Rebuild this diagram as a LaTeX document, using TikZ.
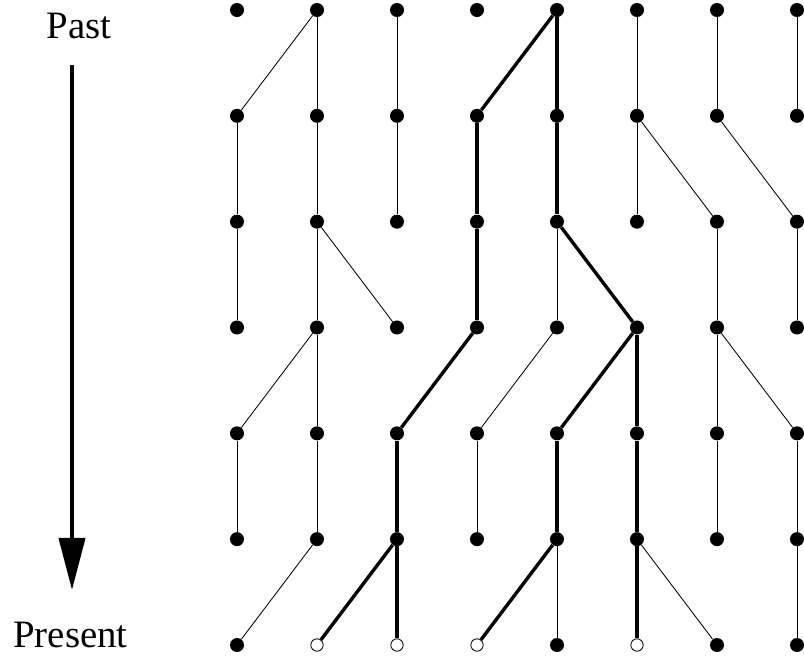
\documentclass[tikz,border=0pt]{standalone}
\usepackage{fontspec}
\setmainfont{Liberation Serif}
\usetikzlibrary{arrows.meta,positioning}

\begin{document}
\begin{tikzpicture}[
        x=0.025cm, y=-0.025cm,
        dot/.style={circle, fill=black, inner sep=0pt, minimum size=0.35cm},
        hollow/.style={circle, draw=black, fill=white, line width=0.6pt, inner sep=0pt, minimum size=0.31cm},
        branch/.style={line width=0.6pt},
        lineage/.style={line width=2.4pt},
        era/.style={font=\fontsize{27.6}{30}\selectfont, anchor=base}
    ]
    \useasboundingbox (0,0) rectangle (804,660);

    % Time axis
    \node[era] (past) at (79,38) {Past};
    \node[era] (present) at (70.5,647) {Present};
    \coordinate (t0) at (72,65);
    \coordinate (t1) at (72,590);
    \draw[line width=2.8pt, -{Triangle[length=1.3cm, width=0.65cm]}] (t0) -- (t1);

    % Individuals
    \foreach \c in {0,...,7}
      \foreach \r in {0,...,5}
        \node[dot] (v-\c-\r) at (237+80*\c, 10+105.83*\r) {};
    \foreach \c in {0,4,6,7}
      \node[dot] (v-\c-6) at (237+80*\c, 645) {};
    \foreach \c in {1,2,3,5}
      \node[hollow] (v-\c-6) at (237+80*\c, 645) {};

    % Parent -- offspring
    \foreach \a/\b in {1-0/0-1, 1-0/1-1, 2-0/2-1, 5-0/5-1, 6-0/6-1, 7-0/7-1,
                       0-1/0-2, 1-1/1-2, 2-1/2-2, 5-1/5-2, 5-1/6-2, 6-1/7-2,
                       0-2/0-3, 1-2/1-3, 1-2/2-3, 4-2/4-3, 6-2/6-3, 7-2/7-3,
                       1-3/0-4, 1-3/1-4, 4-3/3-4, 6-3/6-4, 6-3/7-4,
                       0-4/0-5, 1-4/1-5, 3-4/3-5, 6-4/6-5, 7-4/7-5,
                       1-5/0-6, 4-5/4-6, 5-5/6-6, 7-5/7-6}
      \draw[branch] (v-\a) -- (v-\b);

    % Ancestry of the sample
    \foreach \a/\b in {4-0/3-1, 4-0/4-1,
                       3-1/3-2, 4-1/4-2,
                       3-2/3-3, 4-2/5-3,
                       3-3/2-4, 5-3/4-4, 5-3/5-4,
                       2-4/2-5, 4-4/4-5, 5-4/5-5,
                       2-5/1-6, 2-5/2-6, 4-5/3-6, 5-5/5-6}
      \draw[lineage] (v-\a) -- (v-\b);

\end{tikzpicture}
\end{document}
